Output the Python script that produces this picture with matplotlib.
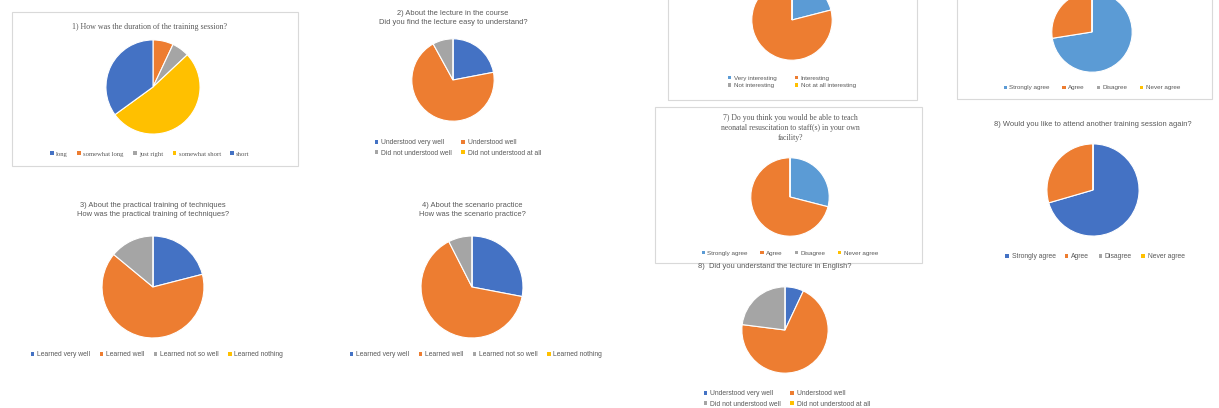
import matplotlib
matplotlib.use("Agg")
import matplotlib.pyplot as plt
from matplotlib.patches import Rectangle, Patch

W, H = 1219, 408

BLUE = "#4472C4"
ORANGE = "#ED7D31"
GRAY = "#A5A5A5"
YELLOW = "#FFC000"
LBLUE = "#5B9BD5"

# --- data ---
q1_labels = ["long", "somewhat long", "just right", "somewhat short", "short"]
q1_values = [0, 7, 6, 52, 35]

q2_labels = ["Understood very well", "Understood well", "Did not understood well", "Did not understood at all"]
q2_values = [22, 70, 8, 0]

q3_labels = ["Learned very well", "Learned well", "Learned not so well", "Learned nothing"]
q3_values = [21, 65, 14, 0]

q4_labels = ["Learned very well", "Learned well", "Learned not so well", "Learned nothing"]
q4_values = [28, 64.5, 7.5, 0]

q5_labels = ["Very interesting", "Interesting", "Not interesting", "Not at all interesting"]
q5_values = [21, 79, 0, 0]

q6_labels = ["Strongly agree", "Agree", "Disagree", "Never agree"]
q6_values = [72.5, 27.5, 0, 0]

q7_labels = ["Strongly agree", "Agree", "Disagree", "Never agree"]
q7_values = [29, 71, 0, 0]

q8_labels = ["Strongly agree", "Agree", "Disagree", "Never agree"]
q8_values = [70.5, 29.5, 0, 0]

q9_labels = ["Understood very well", "Understood well", "Did not understood well", "Did not understood at all"]
q9_values = [7, 70, 23, 0]

fig = plt.figure(figsize=(W / 100, H / 100), dpi=100)
fig.patch.set_facecolor("white")

TXT = "#595959"


def fx(x):
    return x / W


def fy(y):
    return 1 - y / H


def box(x0, y0, x1, y1):
    fig.patches.append(Rectangle((fx(x0), fy(y1)), (x1 - x0) / W, (y1 - y0) / H,
                                 transform=fig.transFigure, fill=False,
                                 edgecolor="#d9d9d9", linewidth=0.8))


def row_major(items, ncol):
    # matplotlib fills legend columns first; reorder so entries read across rows
    nrow = -(-len(items) // ncol)
    out = []
    for c in range(ncol):
        for r in range(nrow):
            i = r * ncol + c
            if i < len(items):
                out.append(items[i])
    return out


def pie(cx, cy, r, values, labels, colors, leg_xy, ncol, serif=False, fs=4.9, colsp=1.4):
    ax = fig.add_axes([fx(cx - r), fy(cy + r), 2 * r / W, 2 * r / H])
    wedges, _ = ax.pie(values, colors=colors, startangle=90, counterclock=False,
                       wedgeprops=dict(edgecolor="white", linewidth=0.8))
    ax.set_xlim(-1.02, 1.02)
    ax.set_ylim(-1.02, 1.02)
    ax.set_aspect("equal")
    ax.axis("off")
    handles = [Patch(facecolor=w.get_facecolor(), edgecolor="none") for w in wedges]
    fam = "Liberation Serif" if serif else "Liberation Sans"
    fig.legend(row_major(handles, ncol), row_major(labels, ncol), loc="center",
               bbox_to_anchor=(fx(leg_xy[0]), fy(leg_xy[1])),
               ncol=ncol, frameon=False, prop=dict(family=fam, size=fs),
               handlelength=0.5, handleheight=0.5, handletextpad=0.4,
               columnspacing=colsp, labelspacing=0.45, labelcolor=TXT)


def title(x, y, s, serif=False, fs=5.4):
    fam = "Liberation Serif" if serif else "Liberation Sans"
    fig.text(fx(x), fy(y), s, ha="center", va="center", color=TXT,
             family=fam, fontsize=fs, linespacing=1.35)


four = [BLUE, ORANGE, GRAY, YELLOW]

# chart 1
box(12, 12, 298, 166)
title(150, 27, "1) How was the duration of the training session?", serif=True, fs=5.8)
pie(153, 87, 48, q1_values, q1_labels, [BLUE, ORANGE, GRAY, YELLOW, BLUE],
    (150, 154), 5, serif=True, fs=4.8)

# chart 2
title(453, 18, "2) About the lecture in the course\nDid you find the lecture easy to understand?")
pie(453, 80, 42, q2_values, q2_labels, four, (458, 148), 2)

# chart 3
title(153, 210, "3) About the practical training of techniques\nHow was the practical training of techniques?")
pie(153, 287, 52, q3_values, q3_labels, four, (157, 355), 4)

# chart 4
title(472, 210, "4) About the scenario practice\nHow was the scenario practice?")
pie(472, 287, 52, q4_values, q4_labels, four, (476, 355), 4)

# chart 5 (top cut)
box(668, -20, 917, 100)
pie(792, 20, 41, q5_values, q5_labels, [LBLUE, ORANGE, GRAY, YELLOW], (792, 82), 2, fs=4.5, colsp=3.0)

# chart 6 (top cut)
box(957, -20, 1212, 99)
pie(1092, 32, 41, q6_values, q6_labels, [LBLUE, ORANGE, GRAY, YELLOW], (1092, 88), 4, fs=4.5, colsp=2.0)

# chart 7
box(655, 107, 922, 263)
title(790, 128, "7) Do you think you would be able to teach\nneonatal resuscitation to staff(s) in your own\nfacility?",
      serif=True, fs=5.6)
pie(790, 197, 40, q7_values, q7_labels, [LBLUE, ORANGE, GRAY, YELLOW], (790, 253), 4, fs=4.5, colsp=2.0)

# chart 8
title(1093, 125, "8) Would you like to attend another training session again?")
pie(1093, 190, 47, q8_values, q8_labels, four, (1095, 257), 4)

# chart 9
title(775, 267, "8)  Did you understand the lecture in English?")
pie(785, 330, 44, q9_values, q9_labels, four, (787, 399), 2)

fig.savefig("out.png", dpi=100, facecolor="white")
